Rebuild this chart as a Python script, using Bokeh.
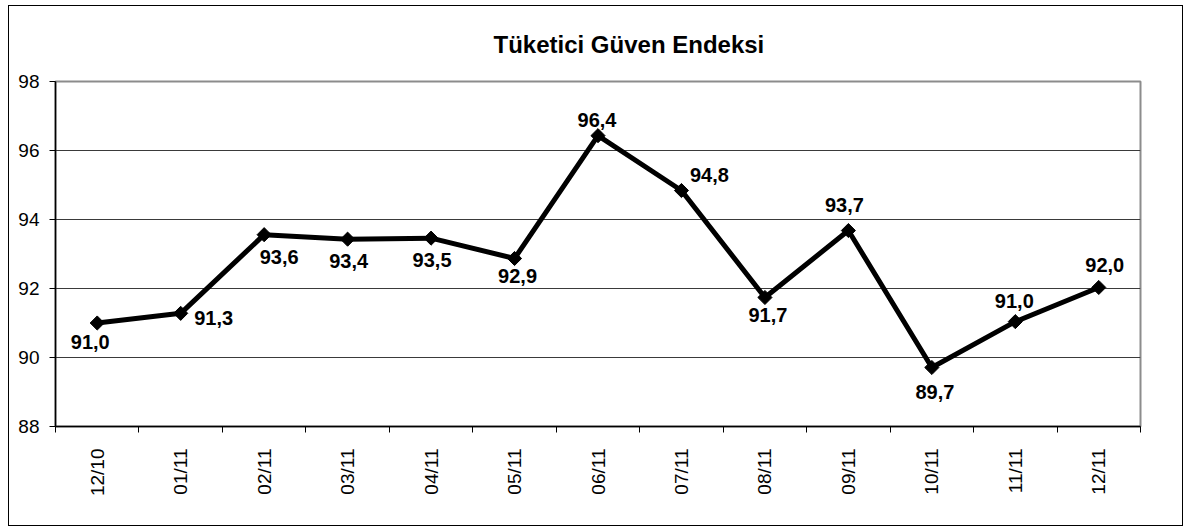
import math
from bokeh.plotting import figure
from bokeh.models import Range1d, FixedTicker, ColumnDataSource
from bokeh.core.properties import value
from bokeh.embed import file_html
from bokeh.resources import INLINE

title = "Tüketici Güven Endeksi"
categories = ["12/10", "01/11", "02/11", "03/11", "04/11", "05/11", "06/11",
              "07/11", "08/11", "09/11", "10/11", "11/11", "12/11"]
index_values = [91.0, 91.28, 93.56, 93.43, 93.46, 92.87, 96.43,
                94.84, 91.74, 93.68, 89.71, 91.04, 92.03]
y_ticks = [88, 90, 92, 94, 96, 98]

# label placement offsets (screen px)
label_dx = [-7, 33, 15, 1, 1, 3, -1, 28, 3, -4, 3, -1, 6]
label_dy = [19, 5, 22, 22, 22, 18, -16, -16, 18, -26, 24, -21, -22]

FONT = "Liberation Sans"
W, H = 1175, 521

n = len(categories)
xs = [i + 0.5 for i in range(n)]
labels = [f"{v:.1f}".replace(".", ",") for v in index_values]

src = ColumnDataSource(dict(x=xs, y=index_values, lab=labels,
                            dx=label_dx, dy=label_dy))

p = figure(width=W, height=H, output_backend="svg", toolbar_location=None,
           x_range=Range1d(0, n), y_range=Range1d(88, 98),
           min_border_left=46, min_border_right=44, min_border_top=75,
           min_border_bottom=101, title=title)
p.styles = {"border": "1px solid black", "box-sizing": "border-box",
            "margin-left": "8px", "margin-top": "5px"}

p.title.align = "left"
p.title.vertical_align = "top"
p.title.offset = 438
p.title.standoff = 44
p.title.text_font = FONT
p.title.text_font_style = "bold"
p.title.text_font_size = "24px"
p.title.text_color = "black"

p.background_fill_color = "white"
p.border_fill_color = "white"
p.outline_line_color = "#8c8c8c"
p.outline_line_width = 2

# axes
p.xaxis.ticker = FixedTicker(ticks=xs, minor_ticks=list(range(n + 1)))
p.xaxis.major_label_overrides = {x: c for x, c in zip(xs, categories)}
p.xaxis.major_label_orientation = math.pi / 2
p.xaxis.major_tick_out = 0
p.xaxis.major_tick_in = 0
p.xaxis.minor_tick_out = 6
p.xaxis.minor_tick_in = 0
p.xaxis.minor_tick_line_color = "black"
p.xaxis.major_label_standoff = 16
p.yaxis.ticker = FixedTicker(ticks=y_ticks)
p.yaxis.major_tick_out = 6
p.yaxis.major_tick_in = 0
p.yaxis.minor_tick_line_color = None
p.yaxis.major_label_standoff = 10
for ax in (p.xaxis, p.yaxis):
    ax.axis_line_color = "black"
    ax.axis_line_width = 1.5
    ax.major_tick_line_color = "black"
    ax.major_label_text_font = FONT
    ax.major_label_text_font_size = "19px"
    ax.major_label_text_color = "black"

p.xgrid.grid_line_color = None
p.ygrid.ticker = FixedTicker(ticks=[90, 92, 94, 96])
p.ygrid.grid_line_color = "#3a3a3a"
p.ygrid.grid_line_width = 1

p.line("x", "y", source=src, line_color="black", line_width=5)
p.scatter("x", "y", source=src, marker="square", angle=math.pi / 4, size=10,
          fill_color="black", line_color="black")
p.text("x", "y", text="lab", source=src, x_offset="dx", y_offset="dy",
       text_font=value(FONT), text_font_style="bold", text_font_size="20px",
       text_align="center", text_baseline="middle", text_color="black")

open("out.html", "w").write(file_html(p, INLINE))
